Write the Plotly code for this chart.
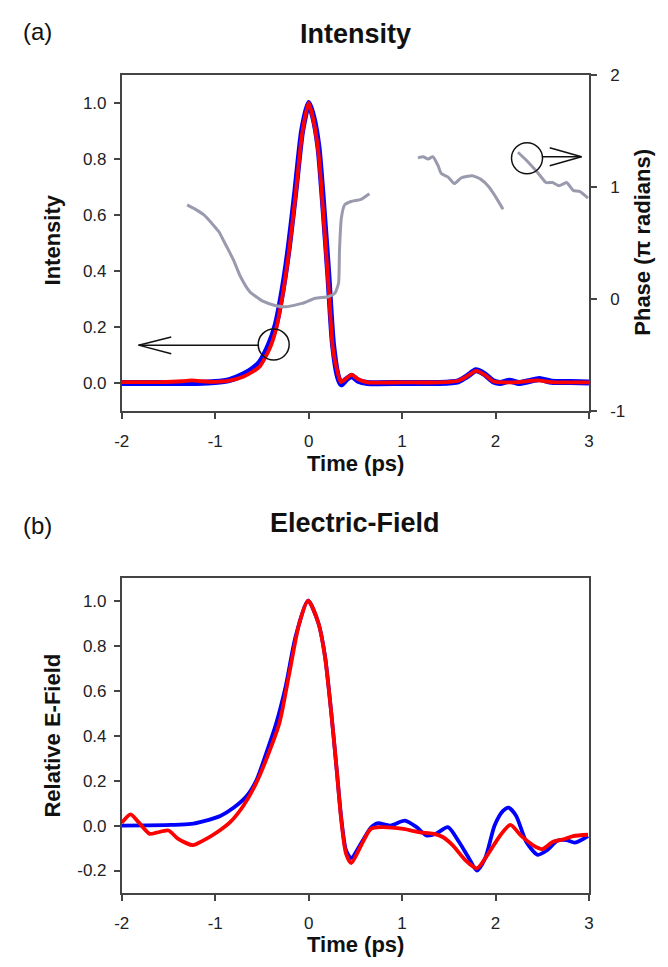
import plotly.graph_objects as go

W, H = 668, 967

# ---------------- Data: (a) Intensity ----------------
t_int_red = [-2.0, -1.6, -1.35, -1.25, -1.15, -1.0, -0.85, -0.7, -0.6, -0.52, -0.42, -0.35, -0.28, -0.21,
             -0.14, -0.07, 0.0, 0.05, 0.106, 0.16, 0.21, 0.26, 0.316, 0.345, 0.40, 0.46, 0.53, 0.63,
             1.0, 1.4, 1.6, 1.7, 1.79, 1.88, 1.98, 2.1, 2.25, 2.45, 2.6, 3.0]
i_red = [0.003, 0.003, 0.006, 0.009, 0.006, 0.004, 0.008, 0.022, 0.04, 0.06, 0.12, 0.19, 0.31, 0.47,
         0.67, 0.89, 1.0, 0.94, 0.82, 0.59, 0.36, 0.12, 0.03, 0.003, 0.015, 0.03, 0.013, 0.002,
         0.002, 0.002, 0.008, 0.025, 0.043, 0.03, 0.005, 0.002, 0.003, 0.009, 0.003, 0.002]

t_int_blue = [-2.0, -1.6, -1.2, -1.0, -0.85, -0.7, -0.6, -0.52, -0.42, -0.35, -0.28, -0.21,
              -0.14, -0.07, 0.0, 0.05, 0.106, 0.16, 0.21, 0.26, 0.316, 0.35, 0.40, 0.46, 0.53, 0.63,
              1.0, 1.4, 1.6, 1.7, 1.79, 1.88, 1.98, 2.05, 2.15, 2.25, 2.35, 2.47, 2.6, 2.8, 3.0]
i_blue = [0.0, 0.0, 0.0, 0.003, 0.01, 0.03, 0.05, 0.075, 0.14, 0.21, 0.33, 0.49,
          0.69, 0.9, 1.0, 0.95, 0.84, 0.62, 0.39, 0.14, 0.02, -0.005, 0.012, 0.025, 0.008, 0.0,
          0.0, 0.0, 0.006, 0.025, 0.045, 0.032, 0.005, 0.0, 0.008, 0.0, 0.006, 0.014, 0.004, 0.003, 0.002]

# Phase (pi radians), three separate segments
t_ph1 = [-1.30, -1.21, -1.12, -1.01, -0.96, -0.91, -0.86, -0.80, -0.73, -0.63, -0.49, -0.35, -0.24,
         -0.07, 0.07, 0.21, 0.28, 0.32, 0.33, 0.35, 0.385, 0.455, 0.56, 0.65]
ph1 = [0.84, 0.80, 0.75, 0.65, 0.60, 0.52, 0.44, 0.34, 0.20, 0.065, -0.02, -0.06, -0.07,
       -0.04, 0.006, 0.02, 0.05, 0.14, 0.43, 0.72, 0.84, 0.87, 0.89, 0.94]
t_ph2 = [1.17, 1.225, 1.28, 1.33, 1.385, 1.42, 1.49, 1.56, 1.63, 1.75, 1.84, 1.93, 2.01, 2.08]
ph2 = [1.26, 1.27, 1.25, 1.27, 1.19, 1.12, 1.09, 1.03, 1.08, 1.10, 1.07, 1.00, 0.90, 0.80]
t_ph3 = [2.24, 2.34, 2.45, 2.54, 2.61, 2.68, 2.76, 2.83, 2.90, 2.99]
ph3 = [1.31, 1.23, 1.13, 1.04, 1.04, 1.01, 1.04, 0.97, 0.96, 0.90]

# ---------------- Data: (b) Electric field ----------------
t_e_blue = [-2.0, -1.47, -1.26, -1.12, -0.94, -0.80, -0.665, -0.56, -0.455, -0.35, -0.245, -0.14,
            -0.006, 0.105, 0.175, 0.245, 0.30, 0.35, 0.40, 0.455, 0.56, 0.665, 0.735, 0.875, 1.03,
            1.155, 1.26, 1.365, 1.49, 1.61, 1.715, 1.80, 1.89, 1.99, 2.08, 2.14, 2.22, 2.33, 2.45,
            2.555, 2.66, 2.76, 2.85, 2.99]
e_blue = [0.0, 0.003, 0.007, 0.02, 0.044, 0.08, 0.13, 0.20, 0.32, 0.45, 0.62, 0.84,
          1.0, 0.90, 0.755, 0.49, 0.25, 0.03, -0.11, -0.145, -0.08, -0.01, 0.01, 0.0, 0.022,
          -0.007, -0.044, -0.036, -0.007, -0.073, -0.145, -0.20, -0.145, 0.0, 0.065, 0.08, 0.044, -0.073, -0.13,
          -0.109, -0.068, -0.065, -0.076, -0.047]

t_e_red = [-2.0, -1.905, -1.82, -1.70, -1.63, -1.50, -1.40, -1.24, -1.12, -0.98, -0.84, -0.70, -0.56,
           -0.42, -0.31, -0.21, -0.10, -0.006, 0.105, 0.175, 0.245, 0.30, 0.35, 0.40, 0.455, 0.56,
           0.665, 0.77, 1.015, 1.19, 1.33, 1.435, 1.54, 1.68, 1.80, 1.925, 2.05, 2.16, 2.27, 2.40,
           2.50, 2.61, 2.73, 2.83, 2.99]
e_red = [0.012, 0.05, 0.015, -0.037, -0.032, -0.022, -0.058, -0.087, -0.065, -0.03, 0.015, 0.087, 0.19,
         0.33, 0.46, 0.67, 0.90, 1.0, 0.90, 0.75, 0.49, 0.25, 0.02, -0.125, -0.167, -0.09,
         -0.015, -0.007, -0.015, -0.03, -0.036, -0.051, -0.087, -0.155, -0.19, -0.124, -0.044, 0.003, -0.044, -0.087,
         -0.105, -0.073, -0.061, -0.047, -0.041]

x_ticks = [-2, -1, 0, 1, 2, 3]
y_ticks = [0.0, 0.2, 0.4, 0.6, 0.8, 1.0]
y_ticks_b = [-0.2, 0.0, 0.2, 0.4, 0.6, 0.8, 1.0]
ph_ticks = [-1, 0, 1, 2]

BLUE = "#0000ff"
RED = "#ff0000"
GRAY = "#9a9aae"
AX = "#444444"
FONT = "Liberation Sans, Arial, sans-serif"


def px_x(p):
    return p / W


def px_y(p):
    return 1 - p / H


fig = go.Figure()

# (a) intensity
fig.add_trace(go.Scatter(x=t_int_blue, y=i_blue, mode="lines", line=dict(color=BLUE, width=6, shape="spline", smoothing=0.6),
                         xaxis="x", yaxis="y", showlegend=False))
fig.add_trace(go.Scatter(x=t_int_red, y=i_red, mode="lines", line=dict(color=RED, width=3.8, shape="spline", smoothing=0.6),
                         xaxis="x", yaxis="y", showlegend=False))
for tt, pp in [(t_ph1, ph1), (t_ph2, ph2), (t_ph3, ph3)]:
    fig.add_trace(go.Scatter(x=tt, y=pp, mode="lines", line=dict(color=GRAY, width=3, shape="spline", smoothing=0.5),
                             xaxis="x", yaxis="y2", showlegend=False))

# (b) electric field
fig.add_trace(go.Scatter(x=t_e_blue, y=e_blue, mode="lines", line=dict(color=BLUE, width=3.8, shape="spline", smoothing=0.7),
                         xaxis="x2", yaxis="y3", showlegend=False))
fig.add_trace(go.Scatter(x=t_e_red, y=e_red, mode="lines", line=dict(color=RED, width=3.8, shape="spline", smoothing=0.7),
                         xaxis="x2", yaxis="y3", showlegend=False))

xdom = [px_x(116), px_x(592.5)]
ydom_a = [px_y(410), px_y(67.3)]
ydom_b = [px_y(901.7), px_y(580.7)]

tickfont = dict(family=FONT, size=17, color="#222222")
axis_common = dict(showgrid=False, zeroline=False, linecolor=AX, linewidth=1.6,
                   ticks="outside", ticklen=6, tickwidth=1.5, tickcolor=AX, tickfont=tickfont)

fig.update_layout(
    width=W, height=H, autosize=False,
    margin=dict(l=0, r=0, t=0, b=0),
    paper_bgcolor="white", plot_bgcolor="white",
    xaxis=dict(domain=xdom, anchor="y", range=[-2, 3], tickvals=x_ticks, ticktext=[str(v) for v in x_ticks],
               showline=True, mirror=True, ticklabelstandoff=8, **axis_common),
    yaxis=dict(domain=ydom_a, anchor="x", range=[-0.1, 1.1], tickvals=y_ticks,
               ticktext=["%.1f" % v for v in y_ticks], showline=True, mirror=False, ticklabelstandoff=4,
               **axis_common),
    yaxis2=dict(overlaying="y", side="right", anchor="x", range=[-1, 2], tickvals=ph_ticks,
                ticktext=[str(v) for v in ph_ticks], showline=True, ticklabelstandoff=10, **axis_common),
    xaxis2=dict(domain=xdom, anchor="y3", range=[-2, 3], tickvals=x_ticks, ticktext=[str(v) for v in x_ticks],
                showline=True, mirror=True, ticklabelstandoff=8, **axis_common),
    yaxis3=dict(domain=ydom_b, anchor="x2", range=[-0.3, 1.1], tickvals=y_ticks_b,
                ticktext=["%.1f" % v for v in y_ticks_b], showline=True, mirror=True, ticklabelstandoff=4,
                **axis_common),
)

ann = []


def txt(x, y, s, size, bold=False, angle=0):
    ann.append(dict(x=px_x(x), y=px_y(y), xref="paper", yref="paper", text=("<b>%s</b>" % s) if bold else s,
                    showarrow=False, textangle=angle, xanchor="center", yanchor="middle",
                    font=dict(family=FONT, size=size, color="#111111")))


txt(354, 26, "Intensity", 27, bold=True)
txt(30, 23, "(a)", 24)
txt(354, 524, "Electric-Field", 27, bold=True)
txt(30, 527, "(b)", 24)
txt(45, 236, "Intensity", 22, bold=True, angle=-90)
txt(647, 238, "Phase (π radians)", 22, bold=True, angle=-90)
txt(354, 464, "Time (ps)", 22, bold=True)
txt(45, 741, "Relative E-Field", 22, bold=True, angle=-90)
txt(354, 954, "Time (ps)", 22, bold=True)
fig.update_layout(annotations=ann)

# circles and arrows (annotation marks)
shapes = []
lw = dict(color="#111111", width=1.5)
# left circle in (a), intensity axis
shapes.append(dict(type="circle", xref="x", yref="y", xsizemode="pixel", ysizemode="pixel",
                   xanchor=-0.374, yanchor=0.137, x0=-15.5, x1=15.5, y0=-15.5, y1=15.5, line=lw))
shapes.append(dict(type="line", xref="x", yref="y", x0=-0.53, y0=0.135, x1=-1.82, y1=0.135, line=lw))
shapes.append(dict(type="line", xref="x", yref="y", x0=-1.82, y0=0.135, x1=-1.47, y1=0.164, line=lw))
shapes.append(dict(type="line", xref="x", yref="y", x0=-1.82, y0=0.135, x1=-1.47, y1=0.104, line=lw))
# right circle in (a), phase axis
shapes.append(dict(type="circle", xref="x", yref="y2", xsizemode="pixel", ysizemode="pixel",
                   xanchor=2.337, yanchor=1.256, x0=-15.5, x1=15.5, y0=-15.5, y1=15.5, line=lw))
shapes.append(dict(type="line", xref="x", yref="y2", x0=2.50, y0=1.27, x1=2.92, y1=1.27, line=lw))
shapes.append(dict(type="line", xref="x", yref="y2", x0=2.92, y0=1.27, x1=2.58, y1=1.35, line=lw))
shapes.append(dict(type="line", xref="x", yref="y2", x0=2.92, y0=1.27, x1=2.58, y1=1.19, line=lw))
fig.update_layout(shapes=shapes)

post = ("document.body.style.margin='0px';document.body.style.padding='0px';"
        "document.body.style.overflow='hidden';")

fig.write_html("out.html", config={"displayModeBar": False}, post_script=post)
